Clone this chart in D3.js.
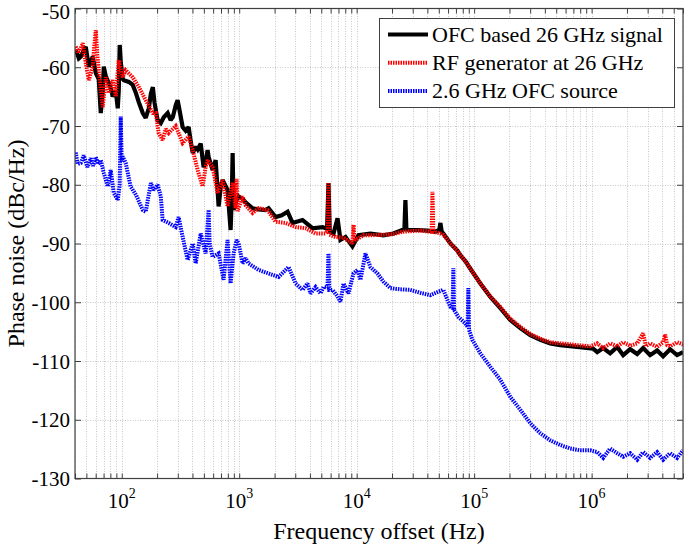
<!DOCTYPE html>
<html><head><meta charset="utf-8">
<script src="https://cdn.jsdelivr.net/npm/d3@7"></script>
<style>
body{margin:0;background:#fff}
svg{display:block}
</style>
</head><body>
<svg id="chart" width="685" height="549" font-family="'Liberation Serif', 'Times New Roman', Times, 'DejaVu Serif', serif"></svg>
<script>
// ---------- data (frequency offset in Hz, phase noise in dBc/Hz) ----------
const seriesNames = ["OFC based 26 GHz signal", "RF generator at 26 GHz", "2.6 GHz OFC source"];
const xTickValues = [1e2, 1e3, 1e4, 1e5, 1e6];
const xTickExponents = ["2", "3", "4", "5", "6"];
const yTickValues = [-130, -120, -110, -100, -90, -80, -70, -60, -50];

const ofcSignal = [
[40.6,-57],[43.1,-58.5],[44.8,-58.2],[46.6,-57.5],[49.4,-56.5],[52.4,-59.9],[56.6,-58.2],[60.1,-61],[63.7,-62],
[66.3,-67.8],[68.9,-64],[70.3,-59.9],[73.1,-61.5],[77.5,-62.7],[80.6,-63.5],[83.8,-65],[88.9,-64],[92.5,-67],
[94.3,-64],[96.1,-56.2],[98,-59],[102,-62],[104,-62.2],[115,-62.5],[124,-63],[132,-64.4],[140,-66],[151,-67.8],
[160,-68.6],[170,-67],[177,-64.5],[184,-63.4],[190,-66],[202,-69],[215,-69.5],[228,-68.5],[246,-67.8],[261,-69],
[272,-68.5],[288,-66.5],[299,-65.6],[315,-68],[330,-70.2],[350,-70.8],[371,-70.2],[386,-72.5],[402,-74.6],
[426,-73.5],[443,-74],[470,-73],[498,-77],[518,-76.3],[538,-74.1],[549,-75.3],[594,-77.5],[630,-75.8],
[668,-83.7],[700,-80],[722,-79.2],[796,-80.9],[845,-87.7],[865,-82],[879,-74.6],[896,-84.3],[950,-82.5],
[989,-82],[1069,-82.4],[1133,-83],[1300,-84],[1462,-84.2],[1675,-84.3],[1778,-84],[2040,-85.5],[2300,-85.2],
[2582,-84.6],[2844,-86.5],[3459,-86],[4207,-87.4],[5117,-87.2],[5600,-87.5],[5754,-79.7],[5900,-88],
[6353,-88.3],[6871,-85.7],[7278,-89.4],[8035,-88.9],[9204,-90.5],[10350,-88.6],[13090,-88.3],[16900,-88.6],
[20540,-88.3],[24490,-87.7],[25500,-87.5],[26000,-82.6],[26500,-87.6],[28640,-87.7],[32880,-87.7],
[39990,-87.8],[46770,-88],[50500,-87.7],[51640,-86.5],[53000,-88],[54710,-88.3],[62810,-90],[71940,-91.2],
[76380,-92],[84140,-93],[92900,-94.3],[113000,-96.8],[137400,-99.1],[167100,-101],[203200,-103],
[247200,-104.4],[300600,-105.6],[365600,-106.4],[444600,-107],[540800,-107.3],[755000,-107.6],
[1032000,-107.9],[1117000,-108.5],[1256000,-107.8],[1439000,-108.7],[1652000,-107.6],[1858000,-109],
[2130000,-108],[2443000,-108.8],[2748000,-107.8],[3149000,-109],[3612000,-108.2],[4064000,-109.2],
[4660000,-108],[5346000,-109],[6012000,-108.5]
];

const rfGenerator = [
[40.6,-56.5],[43.1,-57.6],[46.6,-55.9],[49.4,-59.3],[52.4,-62.2],[56.6,-59.9],[58,-57],[60.1,-53.7],[62,-58],
[63.7,-60.5],[68.9,-66.8],[73.1,-61.7],[77.5,-64.4],[83.8,-62.2],[88.9,-65],[94.3,-58.8],[102,-61.7],
[108,-60.5],[124,-61.7],[140,-63.4],[160,-65.6],[184,-67.8],[195,-67.8],[206,-71.2],[223,-72.4],[237,-70.5],
[251,-71.2],[272,-70.5],[288,-70],[330,-72.9],[371,-71.8],[402,-74.1],[443,-77.5],[488,-80.3],[518,-77],
[538,-75.8],[594,-77],[655,-81.4],[722,-79.2],[796,-83.7],[879,-79.7],[931,-84],[950,-79],[968,-84.5],
[1069,-82],[1133,-83.5],[1300,-84.8],[1462,-84],[1742,-84.3],[2040,-86.3],[2483,-86.5],[3020,-87.2],
[3672,-87.4],[4467,-88.3],[5433,-88.3],[5650,-88],[5754,-79.7],[5850,-88.5],[6607,-88.9],[7727,-89],
[9204,-90],[9397,-86.8],[9600,-89.5],[11430,-88.6],[13090,-88.6],[16900,-88.5],[20540,-88.4],[24490,-88],
[28640,-87.9],[34910,-87.8],[42460,-88],[43500,-87.8],[44160,-81.2],[45000,-88],[49650,-88.2],[54710,-88.5],
[62810,-90],[71940,-91.2],[76380,-92],[84140,-93],[92900,-94.3],[113000,-96.8],[137400,-99],[167100,-100.8],
[203200,-102.8],[247200,-104.2],[300600,-105.4],[365600,-106.2],[444600,-106.8],[540800,-107],
[755000,-107.3],[972700,-107.5],[1117000,-107],[1256000,-107.8],[1439000,-107],[1652000,-107.5],
[1858000,-106.8],[2130000,-107.4],[2443000,-107],[2748000,-105.3],[2900000,-107.5],[3149000,-107],
[3612000,-107.6],[4064000,-106.8],[4227000,-105.5],[4400000,-107.3],[4660000,-107.5],[5346000,-106.8],
[6012000,-107.2]
];

const ofcSource = [
[40.6,-74.5],[42,-76.5],[44.8,-76.3],[47.5,-75],[51,-77],[54.5,-75.5],[57,-76.8],[60.1,-75.3],[63,-76.5],
[66.3,-75.8],[70.3,-78],[76,-80.3],[80.6,-77.5],[85.5,-81.4],[92.5,-82.6],[96,-80],[98,-68.4],[100,-76],
[102,-75.2],[108,-76.3],[119,-80.3],[132,-81.7],[151,-84.3],[160,-84.6],[177,-79.7],[187,-80.9],[202,-80],
[215,-82],[223,-86],[251,-86.5],[288,-87.2],[305,-85.5],[330,-88.9],[364,-92.8],[402,-90],[426,-93.4],
[470,-88.3],[518,-91.7],[549,-84.3],[560,-90],[594,-92.3],[668,-91.7],[736,-96.2],[796,-89.4],[845,-96.8],
[896,-91.7],[950,-89.4],[989,-90],[1069,-93.4],[1133,-92.5],[1202,-93.4],[1462,-94.5],[1778,-95.1],
[2163,-95.7],[2630,-94],[3020,-96.8],[3459,-97.9],[3819,-96.8],[4046,-98.5],[4467,-97.4],[4920,-98.5],
[5224,-97.4],[5650,-97.5],[5754,-91.7],[5850,-97.9],[6223,-97.9],[6871,-99],[7278,-99.9],[7727,-96.8],
[8511,-98.5],[9397,-95.1],[10160,-94.5],[10770,-96.2],[11880,-91.7],[13090,-94],[15020,-95.1],[16900,-96.5],
[19370,-97.6],[23550,-97.8],[28640,-97.9],[34910,-98.4],[42460,-98.8],[49650,-98.2],[54710,-97.9],
[59160,-99.6],[62810,-100.8],[65500,-101],[66530,-94.2],[67500,-101.3],[73450,-102.5],[84140,-103.6],
[88000,-104.2],[89290,-97.6],[90500,-104.7],[96600,-106.4],[113000,-108.7],[137400,-111],[167100,-113.2],
[203200,-116.1],[247200,-118.3],[300600,-120.6],[365600,-122.3],[444600,-123.5],[540800,-124.3],
[657700,-124.9],[799800,-125.2],[972700,-125.2],[1117000,-125.5],[1256000,-126.5],[1439000,-124.9],
[1652000,-125.7],[1858000,-126.3],[2130000,-125.7],[2443000,-126.8],[2748000,-125.5],[3149000,-126.5],
[3612000,-125.5],[4064000,-126.8],[4660000,-125.7],[5346000,-126.5],[6012000,-125.2]
];

// ---------- layout ----------
const L = 75, R = 683, T = 8.5, B = 478.5;
const svg = d3.select("#chart");
const x = d3.scaleLog().domain([40, 6e6]).range([L, R]);
const y = d3.scaleLinear().domain([-130, -50]).range([B, T]);

const allXTicks = [];
for (let d = 10; d <= 1e6; d *= 10) for (let k = 1; k <= 9; k++) {
  const v = d * k; if (v >= 40 && v <= 6e6) allXTicks.push(v);
}

// grid
const grid = svg.append("g");
grid.selectAll("line.gx").data(allXTicks).join("line")
  .attr("x1", d => Math.round(x(d)) + 0.5).attr("x2", d => Math.round(x(d)) + 0.5)
  .attr("y1", T).attr("y2", B)
  .attr("stroke", "#c8c8c8").attr("stroke-width", 1).attr("stroke-dasharray", "1,1.5");
grid.selectAll("line.gy").data(yTickValues.slice(1, -1)).join("line")
  .attr("x1", L).attr("x2", R)
  .attr("y1", d => Math.round(y(d)) + 0.5).attr("y2", d => Math.round(y(d)) + 0.5)
  .attr("stroke", "#c8c8c8").attr("stroke-width", 1).attr("stroke-dasharray", "1,1.5");

// series
svg.append("clipPath").attr("id", "pc").append("rect")
  .attr("x", L).attr("y", T).attr("width", R - L).attr("height", B - T);
const line = d3.line().x(d => x(d[0])).y(d => y(d[1]));
const plot = svg.append("g").attr("clip-path", "url(#pc)");
const styles = [
  {data: ofcSignal, color: "#000000", width: 4.2, dash: null},
  {data: rfGenerator, color: "#ff0000", width: 4, dash: "1.5,1"},
  {data: ofcSource, color: "#0000ff", width: 4, dash: "1.5,1"}
];
styles.forEach(s => {
  plot.append("path").datum(s.data).attr("d", line)
    .attr("fill", "none").attr("stroke", s.color).attr("stroke-width", s.width)
    .attr("stroke-linejoin", "miter").attr("stroke-miterlimit", 2)
    .attr("stroke-dasharray", s.dash);
});

// axes (inward ticks)
const axCol = "#404040";
function styleAxis(g) {
  g.select(".domain").remove();
  g.selectAll(".tick line").attr("stroke", axCol);
  g.selectAll(".tick text").remove();
}
svg.append("g").attr("transform", `translate(0,${B})`)
  .call(d3.axisBottom(x).tickValues(allXTicks).tickSize(-5).tickFormat(() => "")).call(styleAxis);
svg.append("g").attr("transform", `translate(0,${T})`)
  .call(d3.axisTop(x).tickValues(allXTicks).tickSize(-5).tickFormat(() => "")).call(styleAxis);
svg.append("g").attr("transform", `translate(${L},0)`)
  .call(d3.axisLeft(y).tickValues(yTickValues).tickSize(-6).tickFormat(() => "")).call(styleAxis);
svg.append("g").attr("transform", `translate(${R},0)`)
  .call(d3.axisRight(y).tickValues(yTickValues).tickSize(-6).tickFormat(() => "")).call(styleAxis);

svg.append("rect").attr("x", L).attr("y", T).attr("width", R - L).attr("height", B - T)
  .attr("fill", "none").attr("stroke", axCol).attr("stroke-width", 1.2);

const FONT = "'Liberation Serif', 'Times New Roman', Times, 'DejaVu Serif', serif";

// y tick labels
svg.append("g").selectAll("text").data(yTickValues).join("text")
  .attr("font-family", FONT)
  .attr("x", L - 5).attr("y", d => Math.max(y(d) + 7.5, 19))
  .attr("text-anchor", "end").attr("font-size", 21).attr("fill", "#000").text(d => d);

// x tick labels 10^n
const xl = svg.append("g").selectAll("text").data(xTickValues).join("text")
  .attr("font-family", FONT).attr("fill", "#000")
  .attr("x", d => x(d)).attr("y", 508).attr("text-anchor", "middle").attr("font-size", 21);
xl.append("tspan").text("10");
xl.append("tspan").attr("font-size", 14).attr("dy", -10).text((d, i) => xTickExponents[i]);

// axis titles
svg.append("text").attr("font-family", FONT).attr("fill", "#000")
  .attr("x", (L + R) / 2).attr("y", 539).attr("text-anchor", "middle")
  .attr("font-size", 24).text("Frequency offset (Hz)");
svg.append("text").attr("font-family", FONT).attr("fill", "#000")
  .attr("transform", `translate(24,${(T + B) / 2}) rotate(-90)`)
  .attr("text-anchor", "middle").attr("font-size", 24).text("Phase noise (dBc/Hz)");

// legend
const lg = svg.append("g");
lg.append("rect").attr("x", 379.5).attr("y", 18.5).attr("width", 295).attr("height", 89)
  .attr("fill", "#fff").attr("stroke", axCol).attr("stroke-width", 1);
styles.forEach((s, i) => {
  const yy = 34.5 + i * 28.3;
  lg.append("line").attr("x1", 388).attr("x2", 428).attr("y1", yy).attr("y2", yy)
    .attr("stroke", s.color).attr("stroke-width", s.width).attr("stroke-dasharray", s.dash);
  lg.append("text").attr("font-family", FONT).attr("fill", "#000")
    .attr("x", 432).attr("y", yy + 7)
    .attr("font-size", 22).text(seriesNames[i]);
});
</script>
</body></html>
